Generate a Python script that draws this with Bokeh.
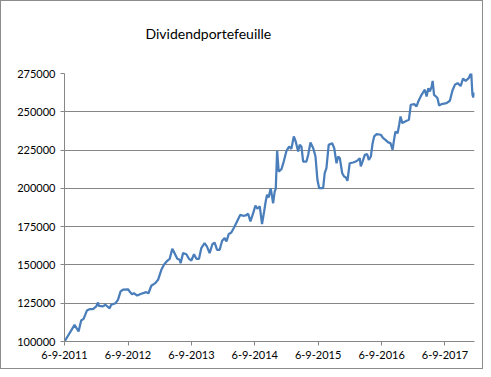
import pandas as pd
from bokeh.plotting import figure
from bokeh.models import (Range1d, FixedTicker, CustomJSTickFormatter, NumeralTickFormatter,
                          Title, ColumnDataSource)
from bokeh.embed import file_html
from bokeh.resources import INLINE

title_text = "Dividendportefeuille"
start_date = "2011-09-06"

# days since 6-9-2011 and portfolio value
days_held = [
    0, 58, 81, 96, 110, 129, 144, 164, 183, 193, 198, 221, 236, 260, 269, 294, 308, 323, 337, 366,
    375, 389, 400, 419, 442, 471, 484, 500, 523, 539, 558, 573, 592, 606, 621, 634, 650, 663, 669, 683,
    702, 717, 731, 746, 760, 775, 788, 807, 821, 836, 852, 865, 879, 894, 908, 923, 933, 946, 961, 977,
    996, 1013, 1029, 1044, 1058, 1071, 1087, 1100, 1111, 1125, 1138, 1150, 1159, 1167, 1176, 1188, 1202, 1211, 1217, 1225,
    1234, 1250, 1263, 1279, 1294, 1307, 1321, 1332, 1346, 1355, 1365, 1375, 1394, 1404, 1417, 1433, 1446, 1457, 1467, 1490,
    1499, 1509, 1522, 1542, 1554, 1567, 1577, 1586, 1600, 1611, 1621, 1630, 1643, 1663, 1678, 1692, 1701, 1707, 1717, 1730,
    1744, 1753, 1765, 1775, 1784, 1798, 1822, 1836, 1849, 1865, 1878, 1890, 1900, 1907, 1919, 1928, 1936, 1946, 1971, 1984,
    1995, 2015, 2028, 2038, 2057, 2076, 2086, 2096, 2105, 2115, 2121, 2129, 2140, 2149, 2158, 2172, 2201, 2220, 2235, 2249,
    2265, 2282, 2296, 2311, 2330, 2343, 2350, 2355, 2362,
]
portfolio_value = [
    100000, 110900, 106500, 113700, 114800, 120200, 121100, 121100, 122900, 125500, 123300, 122900, 124000, 121700, 124000, 125000, 127200, 132700, 133800, 134100,
    132700, 130900, 131500, 130000, 131200, 132200, 131500, 136400, 138100, 140300, 146800, 150100, 152700, 154000, 160500, 157700, 154000, 153400, 151100, 157700,
    157000, 154000, 152900, 157000, 154000, 154000, 160900, 164200, 162000, 157700, 163500, 164600, 159900, 159900, 165800, 167500, 165300, 170100, 171200, 174400,
    178800, 182700, 182100, 182300, 183400, 178400, 183800, 188800, 186700, 188200, 176600, 184900, 191400, 195800, 194000, 200100, 190300, 198000, 199700, 224500,
    211000, 212500, 217500, 224500, 227300, 225800, 233900, 230600, 224100, 228400, 227300, 217500, 217500, 221900, 230000, 226200, 220800, 205600, 200100, 200100,
    209900, 213200, 228400, 229500, 226200, 216400, 220800, 219700, 209900, 207700, 207100, 204900, 216400, 216900, 217500, 218600, 219700, 214300, 217500, 221900,
    222300, 218600, 220800, 229500, 233900, 235400, 235000, 232800, 231700, 230000, 229500, 225200, 232800, 237100, 236000, 241500, 246900, 242600, 244100, 244800,
    254600, 255000, 253500, 256700, 261100, 264400, 260000, 265400, 263300, 266500, 270200, 261100, 260000, 258900, 254100, 255000, 255600, 257200, 263900, 267600,
    268700, 266800, 271700, 270200, 272100, 275900, 261300, 259300, 262600,
]
x_tick_dates = ["2011-09-06", "2012-09-06", "2013-09-06", "2014-09-06", "2015-09-06", "2016-09-06", "2017-09-06"]
y_ticks = [100000, 125000, 150000, 175000, 200000, 225000, 250000, 275000]

dates = pd.Timestamp(start_date) + pd.to_timedelta(days_held, unit="D")
src = ColumnDataSource(data=dict(date=dates, value=portfolio_value))

FONT = "Lato"
GRID = "#868686"

p = figure(width=483, height=369, x_axis_type="datetime",
           output_backend="svg", toolbar_location=None,
           x_range=Range1d(dates[0], dates[-1]),
           y_range=Range1d(y_ticks[0], y_ticks[-1]),
           min_border_left=63, min_border_right=10, min_border_top=72, min_border_bottom=29,
           styles={"border": "1px solid #8c8c8c", "box-sizing": "border-box"})
p.outline_line_color = None
p.background_fill_color = "white"
p.border_fill_color = "white"

p.line("date", "value", source=src, line_color="#4a7ebb", line_width=2.25)

tick_ms = [pd.Timestamp(d).value / 1e6 for d in x_tick_dates]
p.xaxis.ticker = FixedTicker(ticks=tick_ms)
p.xaxis.formatter = CustomJSTickFormatter(code="""
const d = new Date(tick);
return d.getUTCDate() + "-" + (d.getUTCMonth() + 1) + "-" + d.getUTCFullYear();
""")
p.yaxis.ticker = FixedTicker(ticks=y_ticks)
p.yaxis.formatter = NumeralTickFormatter(format="0")

for ax in (p.xaxis[0], p.yaxis[0]):
    ax.axis_line_color = GRID
    ax.axis_line_width = 1
    ax.major_tick_line_color = GRID
    ax.major_tick_out = 4
    ax.major_tick_in = 0
    ax.minor_tick_line_color = None
    ax.major_label_text_font = FONT
    ax.major_label_text_font_size = "11px"
    ax.major_label_text_color = "#000000"
    ax.major_label_standoff = 5

p.xgrid.grid_line_color = None
p.ygrid.grid_line_color = GRID
p.ygrid.grid_line_width = 1

# a blank second line lifts the title towards the top of the chart area
p.add_layout(Title(text=title_text + "\n ", align="left", offset=81, standoff=30,
                   text_font=FONT, text_font_size="14px", text_font_style="normal",
                   text_color="#000000"), "above")

open("out.html", "w").write(file_html(p, INLINE))
